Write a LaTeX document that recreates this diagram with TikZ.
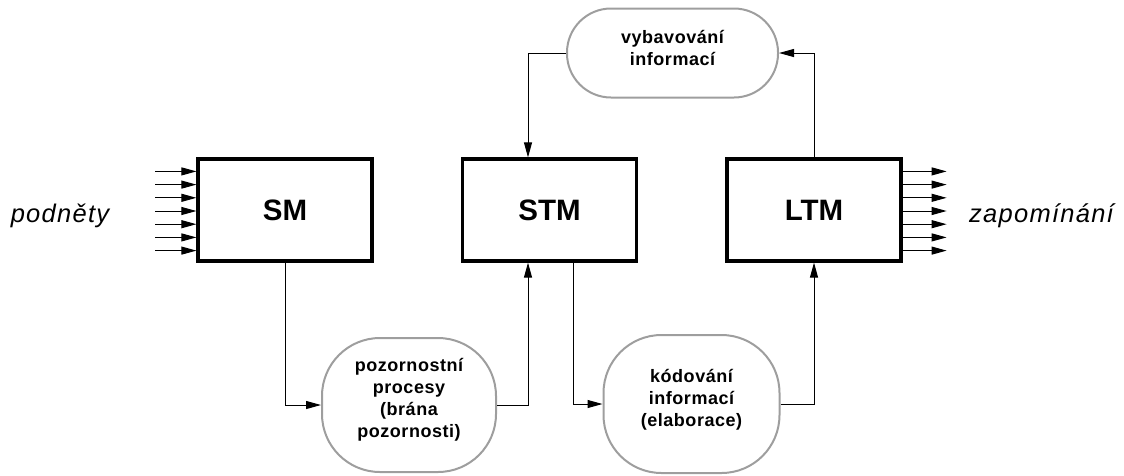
\documentclass[tikz,border=0pt]{standalone}
\usepackage{fontspec}
\setmainfont{Liberation Sans}
\newfontfamily\spaced[LetterSpace=3]{Liberation Sans}
\newfontfamily\sidefont[LetterSpace=5]{Liberation Sans}
\usetikzlibrary{arrows.meta,calc}

\tikzset{
  memory/.style={draw=black, line width=3.2pt, minimum width=174pt, minimum height=102pt,
    inner sep=0pt, font=\bfseries\fontsize{29.5}{31}\selectfont},
  process/.style={draw=black!38, line width=2pt, rounded corners=#1, inner sep=0pt},
  proclabel/.style={inner sep=0pt, align=center,
    font=\spaced\bfseries\fontsize{18}{22}\selectfont},
  side/.style={font=\sidefont\itshape\fontsize{25.5}{27}\selectfont, inner sep=0pt, anchor=base},
  flow/.style={draw=black, line width=1pt, -{Triangle[length=15pt,width=8pt]}},
}

\begin{document}
\begin{tikzpicture}[x=1pt, y=-1pt]
  \useasboundingbox (0,0) rectangle (1124,475);

  % memory stores
  \node[memory] (SM)  at (285,210) {SM};
  \node[memory] (STM) at (549.5,210) {STM};
  \node[memory] (LTM) at (814,210) {LTM};

  % processes between the stores
  \node[process=44pt, minimum width=211pt, minimum height=89pt] (R) at (672.5,53) {};
  \node[proclabel] (Rt) at ([yshift=5pt]R.center) {vybavování\\informací};
  \node[process=58pt, minimum width=174pt, minimum height=134pt] (P) at (409,405) {};
  \node[proclabel] (Pt) at ([yshift=5pt]P.center) {pozornostní\\procesy\\(brána\\pozornosti)};
  \node[process=58pt, minimum width=176pt, minimum height=138pt] (K) at (691.5,404) {};
  \node[proclabel] (Kt) at ([yshift=4pt]K.center) {kódování\\informací\\(elaborace)};

  % side labels
  \node[side] (in)  at (60,222)     {podněty};
  \node[side] (out) at (1041.5,222) {zapomínání};

  % incoming stimuli and forgetting
  \foreach \i in {0,...,6} {
    \coordinate (s\i) at ($(SM.north west)+(-41,14+13.2*\i)$);
    \draw[flow] (s\i) -- (s\i -| SM.west);
    \coordinate (f\i) at ($(LTM.north east)+(44,14+13.2*\i)$);
    \draw[flow] (f\i -| LTM.east) -- (f\i);
  }

  % connections
  \draw[flow] (SM.south) |- (P.west);
  \draw[flow] (P.east) -| ([xshift=-21.5pt]STM.south);
  \draw[flow] ([xshift=23.5pt]STM.south) |- (K.west);
  \draw[flow] (K.east) -| (LTM.south);
  \draw[flow] (LTM.north) |- (R.east);
  \draw[flow] (R.west) -| ([xshift=-21.5pt]STM.north);
\end{tikzpicture}
\end{document}
